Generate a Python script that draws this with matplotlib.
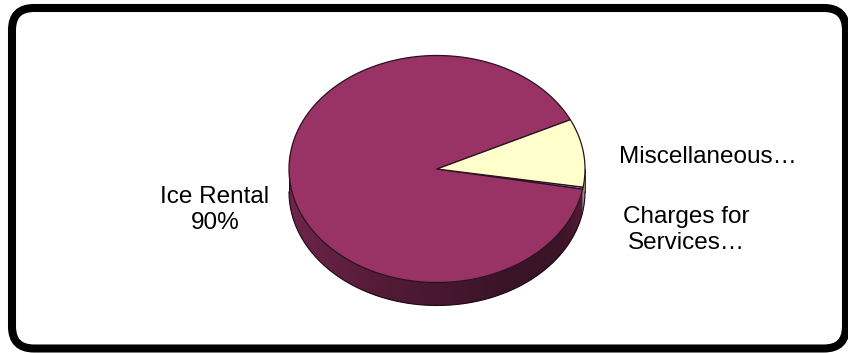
import numpy as np
import matplotlib
matplotlib.use("Agg")
import matplotlib.pyplot as plt
from matplotlib.patches import Polygon, FancyBboxPatch
from matplotlib.colors import to_rgb, LinearSegmentedColormap

# Revenue shares, listed in clockwise drawing order
categories = ["Charges for Services", "Ice Rental", "Miscellaneous"]
values = [0.3, 90.0, 9.7]
colors = ["#9999FF", "#993366", "#FFFFCC"]
labels = ["Charges for\nServices\u2026", "Ice Rental\n90%", "Miscellaneous\u2026"]

W, H = 848, 353
fig = plt.figure(figsize=(W / 100, H / 100), dpi=100)
ax = fig.add_axes([0, 0, 1, 1])
ax.set_xlim(0, W)
ax.set_ylim(H, 0)
ax.axis("off")

# Rounded frame
frame = FancyBboxPatch((12, 8), 834, 340.5,
                       boxstyle="round,pad=0,rounding_size=22",
                       fc="white", ec="black", lw=5.8, zorder=0)
ax.add_patch(frame)

# Tilted pie geometry (pixel space)
cx, cy = 437.0, 169.0
ra, rb = 148.0, 113.5
depth = 23.0
start_deg = -9.2  # first slice starts here, slices run clockwise


def rim(t_deg, dy=0.0):
    t = np.radians(t_deg)
    return cx + ra * np.cos(t), cy - rb * np.sin(t) + dy


def shade(c, f):
    r, g, b = to_rgb(c)
    return (r * f, g * f, b * f)


total = float(sum(values))
spans = [v / total * 360.0 for v in values]
bounds = []
a0 = start_deg
for s in spans:
    bounds.append((a0 - s, a0))  # (low, high) in degrees
    a0 -= s

# Side wall shading profile across the pie width (factor applied to slice colour)
side_cmap = LinearSegmentedColormap.from_list(
    "side", [(0.0, (0.72,) * 3), (0.35, (0.52,) * 3), (0.75, (0.38,) * 3),
             (0.93, (0.40,) * 3), (1.0, (0.55,) * 3)])
gx = np.linspace(0, 1, 400)
fac = side_cmap(gx)[:, 0]

# Side wall, visible on the front half (angles between -180 and 0)
for (lo, hi), col in zip(bounds, colors):
    for k in (-360, 0, 360):
        l2, h2 = max(lo + k, -180.0), min(hi + k, 0.0)
        if h2 <= l2:
            continue
        n = max(2, int((h2 - l2) / 0.5) + 1)
        ts = np.linspace(l2, h2, n)
        xs, ys = rim(ts)
        xb, yb = rim(ts[::-1], depth)
        pts = list(zip(xs, ys)) + list(zip(xb, yb))
        clip = Polygon(pts, closed=True, fc="none", ec="none", zorder=2)
        ax.add_patch(clip)
        rgb = np.array(to_rgb(col))
        img = (fac[:, None] * rgb[None, :])[None, :, :]
        im = ax.imshow(img, extent=(cx - ra, cx + ra, cy + rb + depth + 2, cy - 2),
                       aspect="auto", interpolation="bilinear", zorder=2)
        im.set_clip_path(clip)

ax.set_xlim(0, W)
ax.set_ylim(H, 0)

# Side outline
tb = np.linspace(-180, 0, 200)
bx, by = rim(tb, depth)
ax.plot(bx, by, color="#1a0610", lw=0.8, zorder=3)
lx, ly = rim(-180.0)
ax.plot([lx, lx], [ly, ly + depth], color="#1a0610", lw=0.6, zorder=3)
rx, ry = rim(0.0)
ax.plot([rx, rx], [ry, ry + depth], color="#1a0610", lw=0.6, zorder=3)

# Top face wedges
for (lo, hi), col in zip(bounds, colors):
    n = max(3, int((hi - lo) / 0.5) + 1)
    ts = np.linspace(lo, hi, n)
    xs, ys = rim(ts)
    pts = [(cx, cy)] + list(zip(xs, ys))
    ax.add_patch(Polygon(pts, closed=True, fc=col, ec="#2a1020", lw=0.9,
                         joinstyle="round", zorder=4))

# Labels
font = dict(family=["Liberation Sans", "DejaVu Sans"], fontsize=17.5, color="black")
ax.text(215, 210, labels[1], ha="center", va="center", linespacing=1.25, **font, zorder=5)
ax.text(619, 157, labels[2], ha="left", va="center", **font, zorder=5)
ax.text(686, 230, labels[0], ha="center", va="center", linespacing=1.2, **font, zorder=5)

fig.savefig("out.png", dpi=100)
